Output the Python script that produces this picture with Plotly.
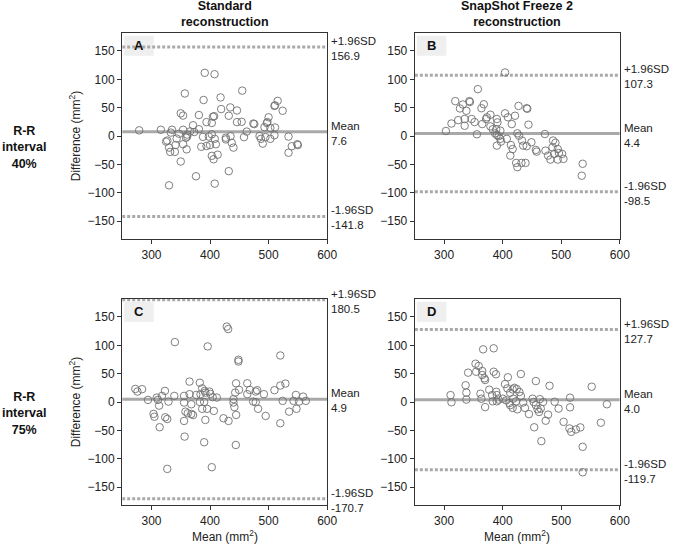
"""Bland-Altman plots: standard vs SnapShot Freeze 2 reconstruction."""

import plotly.graph_objects as go

# Panel A: R-R 40%, standard reconstruction
a_mean = [391, 407.7, 357, 389, 418, 350, 354, 381, 405, 407, 419, 394, 403, 371, 279, 316, 335, 354,
          366, 381, 333, 347, 361, 373, 388, 398, 403, 408, 343, 359, 361, 325, 327, 341, 354, 330,
          332, 340, 360, 385, 394, 400, 410, 403, 413, 406, 350, 376, 330, 408, 427, 432,
          455, 434.6, 446, 432, 446, 454, 475.6, 474, 462.6, 458, 435, 427, 437, 440, 515.5, 510,
          511, 524, 500, 498, 497, 493, 511, 503, 484.5, 487, 490, 494.6, 503, 510, 534, 539.6,
          549, 550, 534]
a_diff = [111.4, 109, 75, 63.5, 68, 40, 36, 37, 34, 35, 47.5, 24.5, 23, 19, 10, 11, 11, 11,
          8, 12, 6, 4, 2.5, 7, -1.5, -1, 3, -5, -4.5, -3, -1, -10, -8, -16, -14.5, -20.5,
          -28, -28, -23.5, -19, -17.6, -16, -14.6, -35, -33, -41, -45, -71, -87, -84, -3, -62,
          80, 50.4, 45, 35.7, 24.5, 25, 21, 22, 7.8, -2, -0.4, -6, -12, -20.5, 62, 53,
          54, 44.5, 33, 24.5, 23, 15.6, 15, 14, 0, -5, -13.5, -2, -5, 1.4, -1, -18,
          -14.5, -16, -29.5]

# Panel B: R-R 40%, SnapShot Freeze 2
b_mean = [303, 312.5, 324, 335, 335, 319, 327, 332, 338, 343, 344, 347, 352, 365, 357.6, 363.7,
          356, 367.7, 379, 373, 371.6, 390, 391, 379, 383, 389, 396, 387, 390, 393, 396, 397, 390,
          404, 404, 409, 421, 427, 441, 442, 415.5, 444, 407, 414, 417, 413, 425, 428, 433, 435,
          441, 449, 456.6, 458, 423, 425, 432, 439, 472, 473, 477.5, 481.4, 486, 490, 485, 494,
          488, 496, 501.5, 494, 503.7, 536.6, 535]
b_diff = [8.8, 22, 28, 18, 30, 61.5, 48.6, 55.6, 44.5, 61.5, 60, 30, 24.6, 21, 82.6, 49,
          3, 56, 37.5, 33, 30, 30, 24, 17, 12, 12, 9.4, 4.7, 1.8, -0.5, -5, -10, -17,
          112, 40, 33, 35.7, 53, 49, 48, 21, 20, -5, -16, -23, -34.6, 4.7, 0.5, -8, -17,
          -18, -11, -24.6, -27.6, -47.5, -55, -47.5, -47.5, 3.5, -25.8, -34.6, -41.6, -8, -12, -20, -23,
          -31.6, -30, -31.6, -41.6, -40.4, -49, -70]

# Panel C: R-R 75%, standard reconstruction
c_mean = [340, 396, 428.6, 431, 365, 382.6, 386.6, 391, 399, 272.4, 276, 284, 323, 294, 309, 311,
          318, 339, 329, 313, 355.7, 365, 376.5, 383.7, 392, 400.5, 404.5, 411.6, 355.7, 368, 382.6,
          390, 386.6, 395, 406.5, 358, 362, 371, 368, 303.5, 305, 323.5, 327, 314, 355.7, 392,
          356.6, 390, 327, 403,
          448.5, 448.5, 520, 444.5, 443, 449.5, 463.6, 468, 463.6, 478, 480.5, 492, 510, 520, 528.7,
          440, 440, 441.6, 444.6, 423, 431.6, 473.6, 478, 482, 495, 520, 524, 535, 547.6, 542.6,
          546.6, 552, 559, 563.6, 444]
c_diff = [105.6, 98, 133, 128.6, 36, 34, 24, 19.6, 18.4, 23, 18.4, 22.6, 19.6, 3.7, 7.8, 3.7,
          10.8, 10.8, 0.7, -6.4, 10.8, 13.8, 12.5, 13.8, 16.6, 14.3, 8.5, 7.8, -1, -4, 0,
          0, -12, -12, -15.7, -17, -20, -23, -21, -21, -26, -27, -30, -44.5, -33.4, -31.6,
          -61, -71, -118, -115,
          74.4, 71.4, 82, 33, 16.6, 21.4, 33, 21.4, 13.8, 18.4, 20.8, 13.8, 20.8, 29, 32.5,
          5, -1, -9, -22.8, -28.7, -33.4, 0.7, -0.4, -12, -24.6, -37.5, 2, -17, -12, 2,
          12.5, 0.7, 9.5, 2, -75.8]

# Panel D: R-R 75%, SnapShot Freeze 2
d_mean = [311, 312.5, 336.7, 338, 338, 341, 353.6, 359, 354.7, 365, 366.6, 365, 368.8, 362, 363.7,
          370, 384.6, 370, 384.6, 388.5, 408.8, 431, 456.6, 480, 404, 408, 412.7, 417, 420, 424,
          428.5, 431, 377, 382, 389, 390, 383, 390, 393, 400, 406, 411.6, 412.7, 417, 418, 422.8,
          425, 435, 438, 444.8, 451, 453, 456.6, 459.5, 462, 463.5, 469, 465, 453.8, 473.5, 466,
          477.5, 488.7, 495.4, 504, 515, 515, 514, 517, 525, 532.6, 536.6, 536.6, 552, 578, 567.6]
d_diff = [12.2, -0.5, 29.5, 16.6, 4.2, 51.7, 67.5, 63.5, 53.4, 54.7, 92.9, 47.6, 41.8, 14.6, 5.8,
          -9, 94.7, 38.8, 53.4, 48.9, 43.6, 49.4, 36.9, 28.6, 31.6, 24, 16.2, 22.2, 25, 22.9,
          17.6, 10.6, 21.7, 12.2, 18, 12.2, 1.2, 1.2, 4.2, 5.8, 2.9, -1.8, -5.6, -10.4, 5.8, 1.2,
          -12.9, -0.9, -10.4, -21.3, 5.8, 0, -5.6, -12.9, -17.6, 5, 0, -11.6, -44.6, -33, -69,
          -22.3, 0.5, -11.6, -35, 7.6, -9.4, -46.7, -52.6, -48.4, -44.8, -79, -124, 27, -4, -36.5]

# limits of agreement: (upper, mean, lower)
limits = {
    "A": (156.9, 7.6, -141.8),
    "B": (107.3, 4.4, -98.5),
    "C": (180.5, 4.9, -170.7),
    "D": (127.7, 4.0, -119.7),
}
panels = [("A", a_mean, a_diff), ("B", b_mean, b_diff), ("C", c_mean, c_diff), ("D", d_mean, d_diff)]

col_titles = ["<b>Standard<br>reconstruction</b>", "<b>SnapShot Freeze 2<br>reconstruction</b>"]
row_titles = ["<b>R-R<br>interval<br>40%</b>", "<b>R-R<br>interval<br>75%</b>"]

W, H = 685, 549
FONT = "Liberation Sans, Arial, sans-serif"
AXIS_COL = "#333333"
REF_COL = "#a9a9a9"
TXT = "#222222"

# panel boxes in pixels: (left, right), (top, bottom)
px_x = [(124, 332), (421, 629)]
px_y = [(32.8, 239.2), (298.8, 505.2)]
PH = px_y[0][1] - px_y[0][0]

x_dom = [(a / W, b / W) for a, b in px_x]
y_dom = [(1 - b / H, 1 - a / H) for a, b in px_y]

fig = go.Figure()
layout = {}

for i, (name, xs, ys) in enumerate(panels):
    r, c = divmod(i, 2)
    n = "" if i == 0 else str(i + 1)
    xa, ya = "x" + n, "y" + n
    up, mid, lo = limits[name]

    for val, dash in [(up, "3px,2px"), (lo, "3px,2px"), (mid, "solid")]:
        fig.add_trace(go.Scatter(
            x=[250, 600], y=[val, val], mode="lines", xaxis=xa, yaxis=ya,
            line=dict(color=REF_COL, width=3, dash=dash), hoverinfo="skip", showlegend=False,
        ))
    fig.add_trace(go.Scatter(
        x=xs, y=ys, mode="markers", xaxis=xa, yaxis=ya, showlegend=False,
        marker=dict(symbol="circle-open", size=7.5, color="#707070", line=dict(width=0.9)),
    ))

    layout["xaxis" + n] = dict(
        domain=x_dom[c], range=[250, 600], anchor=ya, tickvals=[300, 400, 500, 600],
        showgrid=False, zeroline=False, showline=True, linecolor=AXIS_COL, linewidth=1.3,
        mirror=True, ticks="outside", ticklen=4, tickcolor=AXIS_COL,
        tickfont=dict(size=12, color=TXT),
    )
    yax = dict(
        domain=y_dom[r], range=[-182, 182], anchor=xa, tickvals=[-150, -100, -50, 0, 50, 100, 150],
        showgrid=False, zeroline=False, showline=True, linecolor=AXIS_COL, linewidth=1.3,
        mirror=True, ticks="outside", ticklen=4, tickcolor=AXIS_COL,
        tickfont=dict(size=12, color=TXT),
    )
    if c == 0:
        yax["title"] = dict(text="Difference (mm<sup>2</sup>)", font=dict(size=12, color=TXT), standoff=4)
    layout["yaxis" + n] = yax

    # panel letter in a light grey box
    fig.add_shape(type="rect", xref=xa + " domain", yref=ya + " domain",
                  x0=2 / 208, x1=32 / 208, y0=1 - 23 / PH, y1=1 - 3 / PH,
                  fillcolor="#efefef", line=dict(width=0), layer="below")
    fig.add_annotation(text="<b>%s</b>" % name, xref=xa + " domain", yref=ya + " domain",
                       x=17 / 208, y=1 - 13 / PH, xanchor="center", yanchor="middle",
                       showarrow=False, font=dict(size=13, color="#111"))

    # limit labels at the right
    for val, label in [(up, "+1.96SD"), (mid, "Mean"), (lo, "-1.96SD")]:
        fig.add_annotation(text="%s<br>%.1f" % (label, val), xref=xa + " domain", yref=ya,
                           x=1, y=val, xanchor="left", yanchor="middle", xshift=2, yshift=-1.5,
                           align="left", showarrow=False, font=dict(size=11.5, color=TXT))

    if r == 1:
        fig.add_annotation(text="Mean (mm<sup>2</sup>)", xref=xa + " domain", yref="paper",
                           x=0.5, y=1 - 536 / H, xanchor="center", yanchor="middle",
                           showarrow=False, font=dict(size=12, color=TXT))

for c, t in enumerate(col_titles):
    fig.add_annotation(text=t, xref="paper", yref="paper", x=sum(x_dom[c]) / 2, y=1 - 14 / H,
                       xanchor="center", yanchor="middle",
                       showarrow=False, font=dict(size=12.5, color="#111"))
for r, t in enumerate(row_titles):
    fig.add_annotation(text=t, xref="paper", yref="paper", x=24 / W, y=1 - (147 + 266 * r) / H,
                       xanchor="center", yanchor="middle",
                       showarrow=False, font=dict(size=12.5, color="#111"))

fig.update_layout(
    width=W, height=H, margin=dict(l=0, r=0, t=0, b=0),
    paper_bgcolor="white", plot_bgcolor="white",
    font=dict(family=FONT, color=TXT),
    **layout,
)

# the page's default body margin would push the 685x549 figure off the window
fig.write_html("out.html", config={"displayModeBar": False},
               post_script="document.body.style.margin = '0';")
